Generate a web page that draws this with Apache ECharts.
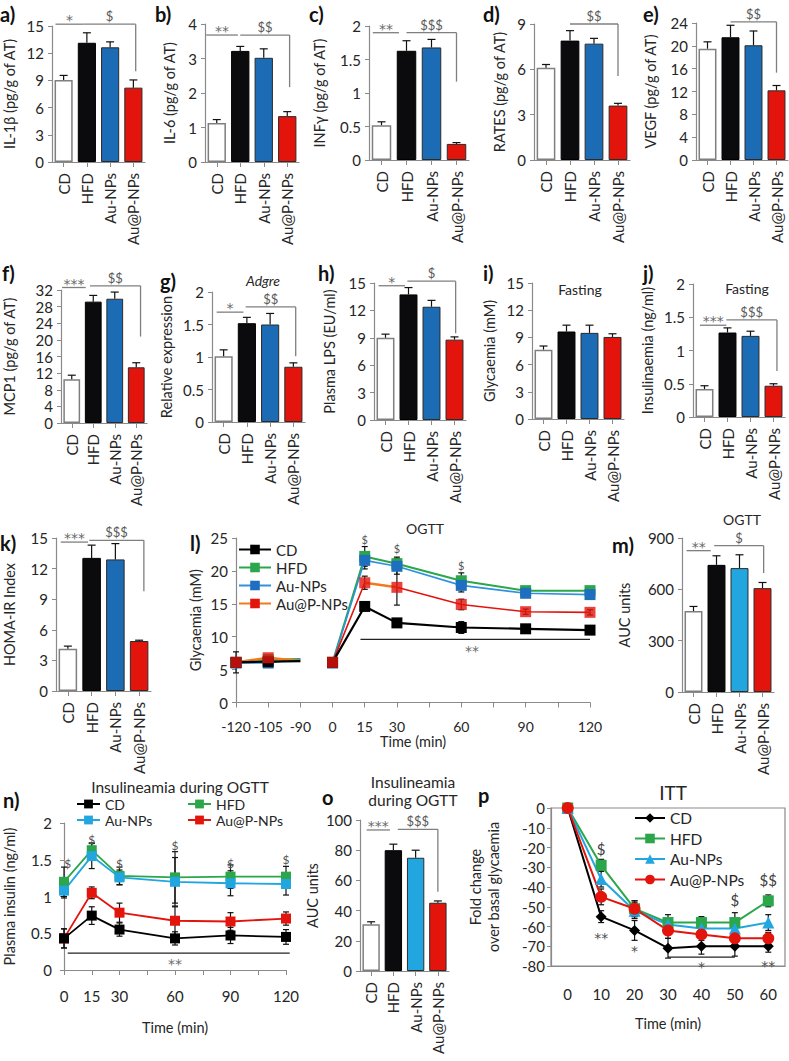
<!DOCTYPE html>
<html>
<head>
<meta charset="utf-8">
<script src="https://cdn.jsdelivr.net/npm/echarts@6/dist/echarts.min.js"></script>
<style>
html,body{margin:0;padding:0;background:#fff;}
#chart{width:789px;height:1061px;}
</style>
</head>
<body>
<div id="chart"></div>
<script>
// ================= DATA =================
const groups = ['CD', 'HFD', 'Au-NPs', 'Au@P-NPs'];

const il1b    = [9.05, 13.15, 12.65, 8.2];   const il1bErr    = [0.5, 1.1, 0.6, 0.85];
const il6     = [1.13, 3.22, 3.02, 1.33];    const il6Err     = [0.1, 0.13, 0.26, 0.13];
const infg    = [0.52, 1.63, 1.68, 0.24];    const infgErr    = [0.05, 0.15, 0.12, 0.02];
const rates   = [6.1, 7.9, 7.7, 3.6];        const ratesErr   = [0.22, 0.66, 0.35, 0.15];
const vegf    = [19.5, 21.5, 20.1, 12.2];    const vegfErr    = [1.2, 2.1, 2.5, 0.85];
const mcp1    = [10.5, 29.2, 29.9, 13.4];    const mcp1Err    = [1.0, 1.5, 1.6, 1.1];
const adgre   = [1.01, 1.52, 1.50, 0.85];    const adgreErr   = [0.1, 0.09, 0.17, 0.06];
const lps     = [9.0, 13.75, 12.4, 8.8];     const lpsErr     = [0.4, 0.75, 0.7, 0.3];
const glyFast = [7.65, 9.65, 9.5, 9.05];     const glyFastErr = [0.4, 0.7, 0.85, 0.35];
const insFast = [0.42, 1.27, 1.22, 0.47];    const insFastErr = [0.05, 0.07, 0.07, 0.03];
const homa    = [4.15, 13.05, 12.9, 4.9];    const homaErr    = [0.25, 1.25, 1.55, 0.08];
const aucGly  = [473, 743, 724, 607];        const aucGlyErr  = [27, 53, 78, 33];
const aucIns  = [31, 80, 75, 45.2];          const aucInsErr  = [1.6, 4, 5, 1.2];

// significance brackets: [fromCat, toCat, level, dropTo|null, label]
const sigA = [[-0.35, 0.85, 15.2, null, '*'], [0.85, 3.1, 15.2, 10, '$']];
const sigB = [[-0.45, 0.9, 3.68, null, '**'], [1.0, 3.1, 3.68, 2.17, '$$']];
const sigC = [[-0.35, 0.7, 1.9, null, '**'], [1.0, 3.0, 1.9, 1.17, '$$$']];
const sigD = [[1.0, 3.0, 9.0, 5.56, '$$']];
const sigE = [[1.0, 3.0, 24.2, 15.3, '$$']];
const sigF = [[-0.45, 0.65, 32.6, null, '***'], [0.85, 3.2, 33, 20.8, '$$']];
const sigG = [[-0.3, 0.85, 1.69, null, '*'], [0.95, 3.1, 1.77, 1.01, '$$']];
const sigH = [[-0.3, 0.85, 14.7, null, '*'], [0.95, 3.05, 15.2, 9.5, '$']];
const sigI = [];
const sigJ = [[-0.2, 0.95, 1.38, null, '***'], [0.95, 3.15, 1.46, 0.69, '$$$']];
const sigK = [[-0.3, 0.85, 14.6, null, '***'], [0.9, 3.2, 14.77, 9.78, '$$$']];
const sigM = [[-0.3, 0.75, 826, null, '**'], [0.9, 3.05, 855, 695, '$']];
const sigO = [[-0.2, 0.85, 93.4, null, '***'], [1.2, 3.0, 93.8, 52.5, '$$$']];

// OGTT glycaemia (l)
const ogttTimes  = [-120, -105, -90, 0, 15, 30, 60, 90, 120];
const ogttCD     = [6.1, 6.2, 6.3, 6.1, 14.6, 12.1, 11.4, 11.2, 11.0];
const ogttHFD    = [6.1, 6.5, 6.6, 6.1, 22.2, 21.1, 18.5, 17.0, 17.0];
const ogttAu     = [6.0, 6.0, 6.6, 6.0, 21.6, 20.7, 17.8, 16.6, 16.4];
const ogttAuP    = [6.1, 6.8, 6.3, 6.1, 18.2, 17.5, 14.9, 13.8, 13.7];
const ogttCDErr  = [1.6, 0.3, 0, 0.3, 0.5, 0.6, 0.9, 0.4, 0.4];
const ogttHFDErr = [0.4, 0.3, 0, 0.3, 1.5, 1.0, 1.2, 0.4, 0.4];
const ogttAuErr  = [0.4, 0.3, 0, 0.3, 1.3, 1.2, 1.0, 0.4, 0.4];
const ogttAuPErr = [0.4, 0.3, 0, 0.3, 1.0, 2.7, 0.8, 0.4, 0.4];
const ogttDollar = [[15, 24.8], [30, 23.4], [60, 20.8]];
const ogttStarLine = [13, 120, 9.6];
const ogttStarText = [65, 8.4];

// Insulinaemia during OGTT (n)
const insTimes  = [0, 15, 30, 60, 90, 120];
const insCD     = [0.43, 0.74, 0.55, 0.43, 0.47, 0.45];
const insHFD    = [1.2, 1.63, 1.28, 1.26, 1.27, 1.27];
const insAu     = [1.08, 1.55, 1.26, 1.2, 1.18, 1.17];
const insAuP    = [0.43, 1.05, 0.78, 0.67, 0.66, 0.7];
const insCDErr  = [0.13, 0.12, 0.09, 0.09, 0.11, 0.1];
const insHFDErr = [0.2, 0.1, 0.12, 0.35, 0.16, 0.14];
const insAuErr  = [0.1, 0.17, 0.1, 0.33, 0.17, 0.15];
const insAuPErr = [0.13, 0.08, 0.13, 0.19, 0.12, 0.09];
const insDollar = [[2, 1.45], [15, 1.77], [30, 1.45], [60, 1.7], [90, 1.45], [120, 1.5]];
const insStarLine = [2, 122, 0.23];
const insStarText = [60, 0.13];

// ITT (p)
const ittTimes  = ['0', '10', '20', '30', '40', '50', '60'];
const ittCD     = [0, -55, -62, -71, -70, -70, -70];
const ittHFD    = [0, -29, -51, -58, -58, -58, -47];
const ittAu     = [0, -36, -52, -59, -61, -61, -58];
const ittAuP    = [0, -45, -51, -62, -64, -66, -66];
const ittCDErr  = [0, 3, 5, 5, 4, 5, 3];
const ittHFDErr = [0, 3, 4, 4, 3, 5, 3];
const ittAuErr  = [0, 4, 4, 3, 3, 4, 4];
const ittAuPErr = [0, 4, 4, 4, 3, 3, 3];
const ittMarks  = [[1, -21, '$'], [1, -64, '**'], [2, -70.5, '*'], [4, -78.5, '*'], [5, -46.5, '$'], [6, -36.5, '$$'], [6, -78, '**']];
const ittLine   = [3, 5, -75.5];

// ================= STYLE / LAYOUT =================
const FONT = 'Lato, "Open Sans", sans-serif';
const TXT = '#262626', AXC = '#8a8a8a', SIGC = '#7f7f7f';
const BLUE = '#1b6cb5', LBLUE = '#22a6e0', RED = '#e3140c', BLACK = '#0b0b0d', GREEN = '#2ba64b', ORANGE = '#f07a1c';

function barStyle(i, blue) {
  return [{color: '#fff', borderColor: '#7f7f7f', borderWidth: 1.5},
          {color: BLACK, borderColor: '#000', borderWidth: 1},
          {color: blue, borderColor: '#2b2b2b', borderWidth: 1},
          {color: RED, borderColor: '#2b2b2b', borderWidth: 1}][i];
}

const barPanels = [
  {vals: il1b, errs: il1bErr, sig: sigA, box: [52, 26, 93, 136], y: [0, 15, 3], name: 'IL-1β (pg/g of AT)', gap: 35, blue: BLUE},
  {vals: il6, errs: il6Err, sig: sigB, box: [205, 24, 94, 138], y: [0, 4, 1], name: 'IL-6 (pg/g of AT)', gap: 28, blue: BLUE},
  {vals: infg, errs: infgErr, sig: sigC, box: [369, 26, 100, 134], y: [0, 2, 0.5], name: 'INFγ (pg/g of AT)', gap: 42, blue: BLUE},
  {vals: rates, errs: ratesErr, sig: sigD, box: [534, 24, 96, 136], y: [0, 9, 3], name: 'RATES (pg/g of AT)', gap: 27, blue: BLUE},
  {vals: vegf, errs: vegfErr, sig: sigE, box: [696, 23, 92, 137], y: [0, 24, 4], name: 'VEGF (pg/g of AT)', gap: 38, blue: BLUE},
  {vals: mcp1, errs: mcp1Err, sig: sigF, box: [61, 290, 86, 133], y: [0, 32, 4], name: 'MCP1 (pg/g of AT)', gap: 44, blue: BLUE},
  {vals: adgre, errs: adgreErr, sig: sigG, box: [212, 292, 93, 130], y: [0, 2, 0.5], name: 'Relative expression', gap: 38, blue: BLUE, nameShift: 6},
  {vals: lps, errs: lpsErr, sig: sigH, box: [374, 283, 92, 137], y: [0, 15, 3], name: 'Plasma LPS (EU/ml)', gap: 37, blue: BLUE},
  {vals: glyFast, errs: glyFastErr, sig: sigI, box: [532, 283, 92, 136], y: [0, 15, 3], name: 'Glycaemia (mM)', gap: 35, blue: BLUE},
  {vals: insFast, errs: insFastErr, sig: sigJ, box: [693, 284, 92, 133], y: [0, 2, 0.5], name: 'Insulinaemia (ng/ml)', gap: 38, blue: BLUE, nameShift: 6},
  {vals: homa, errs: homaErr, sig: sigK, box: [56, 538, 95, 153], y: [0, 15, 3], name: 'HOMA-IR Index', gap: 39, blue: BLUE},
  {vals: aucGly, errs: aucGlyErr, sig: sigM, box: [682, 538, 92, 154], y: [0, 900, 300], name: 'AUC units', gap: 50, blue: LBLUE},
  {vals: aucIns, errs: aucInsErr, sig: sigO, box: [360, 820, 89, 151], y: [0, 100, 20], name: 'AUC units', gap: 40, blue: LBLUE}
];

const panelLetters = [['a)', 0, 14], ['b)', 155, 14], ['c)', 309, 14], ['d)', 483, 14], ['e)', 643, 14],
  ['f)', 2, 273], ['g)', 160, 281], ['h)', 318, 273], ['i)', 483, 273], ['j)', 643, 273],
  ['k)', 0, 543], ['l)', 190, 543], ['m)', 612, 545], ['n)', 3, 800], ['o', 322, 797], ['p', 478, 795]];

const titles = [['Adgre', 263, 280, 14, 'italic'], ['Fasting', 580, 289, 14], ['Fasting', 747, 288, 14],
  ['OGTT', 425, 528, 14], ['OGTT', 742, 519, 14], ['Insulineamia during OGTT', 180, 787, 15.5],
  ['Insulineamia', 413, 782, 15.5], ['during OGTT', 413, 800, 15.5], ['ITT', 673, 792, 19]];

// ================= BUILD =================
const grids = [], xAxes = [], yAxes = [], series = [], legends = [];
const axisLineC = {show: true, lineStyle: {color: AXC, width: 1.2}};
const lbl = (extra) => Object.assign({color: TXT, fontSize: 15, fontFamily: FONT}, extra || {});

function addGrid(b, extra) {
  grids.push(Object.assign({left: b[0], top: b[1], width: b[2], height: b[3], containLabel: false, outerBoundsMode: 'none'}, extra || {}));
  return grids.length - 1;
}
function yAxisCfg(gi, y, name, gap, extra) {
  return Object.assign({gridIndex: gi, type: 'value', min: y[0], max: y[1], interval: y[2],
    name: name, nameLocation: 'middle', nameGap: gap, nameTextStyle: lbl({fontSize: 14.5}),
    axisLine: axisLineC, axisTick: {show: true, length: 4, lineStyle: {color: AXC}},
    splitLine: {show: false}, axisLabel: lbl({margin: 8})}, extra || {});
}
function errSeries(gi, data, capW, both, z) {
  return {type: 'custom', xAxisIndex: gi, yAxisIndex: gi, z: z || 4, silent: true, data: data,
    renderItem: function (params, api) {
      const x = api.value(0), v = api.value(1), e = api.value(2);
      if (!e) return null;
      const top = api.coord([x, v + e]);
      const bot = api.coord([x, both ? v - e : v]);
      const st = {stroke: '#111', lineWidth: 1.2, fill: null};
      const ch = [
        {type: 'line', shape: {x1: top[0], y1: top[1], x2: bot[0], y2: bot[1]}, style: st},
        {type: 'line', shape: {x1: top[0] - capW / 2, y1: top[1], x2: top[0] + capW / 2, y2: top[1]}, style: st}];
      if (both) ch.push({type: 'line', shape: {x1: bot[0] - capW / 2, y1: bot[1], x2: bot[0] + capW / 2, y2: bot[1]}, style: st});
      return {type: 'group', children: ch};
    }};
}

// --- bar panels
const barGridIdx = [];
barPanels.forEach(p => {
  const gi = addGrid(p.box);
  barGridIdx.push(gi);
  xAxes.push({gridIndex: gi, type: 'category', data: groups, axisLine: axisLineC,
    axisTick: {show: true, alignWithLabel: true, length: 5, lineStyle: {color: AXC}},
    axisLabel: lbl({rotate: 90, margin: 11, interval: 0})});
  const ya = yAxisCfg(gi, p.y, p.name, p.gap);
  if (p.nameShift) ya.nameTextStyle = lbl({fontSize: 14.5, padding: [0, 0, 0, 0], align: 'center', verticalAlign: 'bottom', lineHeight: 16});
  yAxes.push(ya);
  series.push({type: 'bar', xAxisIndex: gi, yAxisIndex: gi, barCategoryGap: '22%', z: 2, silent: true,
    data: p.vals.map((v, i) => ({value: v, itemStyle: barStyle(i, p.blue)}))});
  series.push(errSeries(gi, p.vals.map((v, i) => [i, v, p.errs[i]]), 8, false, 4));
});

// --- l: OGTT glycaemia (broken time axis)
function ogttPos(t) { return t < 0 ? (t + 120) / 15 : 3 + t / 15; }
function runs(vals, runList) {
  const out = [];
  runList.forEach((r, k) => {
    if (k > 0) out.push([ogttPos(ogttTimes[r[0]]) - 0.01, '-']);
    r.forEach(i => {
      const item = {value: [ogttPos(ogttTimes[i]), vals[i]]};
      if (ogttTimes[i] === -90) item.symbol = 'none';
      out.push(item);
    });
  });
  return out;
}
const fullRuns = [[0, 1, 2], [3, 4, 5, 6, 7, 8]];
const gL = addGrid([236, 538, 354, 164.5]);
xAxes.push({gridIndex: gL, type: 'value', min: 0, max: 11, interval: 1, axisLine: Object.assign({onZero: false}, axisLineC),
  axisTick: {show: true, length: 5, lineStyle: {color: AXC}}, splitLine: {show: false},
  axisLabel: lbl({fontSize: 14, margin: 17, formatter: v => { const t = ogttTimes.find(tt => Math.abs(ogttPos(tt) - v) < 1e-6); return t === undefined ? '' : String(t); }}),
  name: 'Time (min)', nameLocation: 'middle', nameGap: 31, nameTextStyle: lbl({fontSize: 14.5})});
yAxes.push(yAxisCfg(gL, [0, 25, 5], 'Glycaemia (mM)', 33));
const lLine = (name, vals, lc, ic, w) => ({type: 'line', name: name, xAxisIndex: gL, yAxisIndex: gL, z: 5, silent: true,
  symbol: 'rect', symbolSize: 11, lineStyle: {color: lc, width: w}, itemStyle: {color: ic}, data: runs(vals, fullRuns)});
series.push(errSeries(gL, ogttTimes.map((t, i) => [ogttPos(t), ogttHFD[i], ogttHFDErr[i]]), 6, true, 4));
series.push(errSeries(gL, ogttTimes.map((t, i) => [ogttPos(t), ogttAu[i], ogttAuErr[i]]), 6, true, 4));
series.push(errSeries(gL, ogttTimes.map((t, i) => [ogttPos(t), ogttAuP[i], ogttAuPErr[i]]), 6, true, 4));
series.push(errSeries(gL, ogttTimes.map((t, i) => [ogttPos(t), ogttCD[i], ogttCDErr[i]]), 6, true, 4));
series.push(lLine('l:HFD', ogttHFD, GREEN, GREEN, 2));
series.push(lLine('l:Au-NPs', ogttAu, '#2e93dc', '#1e6fc0', 1.6));
series.push({type: 'line', name: 'l:Au@P-NPs', xAxisIndex: gL, yAxisIndex: gL, z: 5, silent: true, symbol: 'rect', symbolSize: 11, showSymbol: false,
  lineStyle: {color: ORANGE, width: 2.5}, itemStyle: {color: RED}, data: runs(ogttAuP, [[0, 1, 2], [4, 5]])});
series.push({type: 'line', name: 'l:AuP-red', xAxisIndex: gL, yAxisIndex: gL, z: 5, silent: true, symbol: 'none',
  lineStyle: {color: RED, width: 1.6}, data: runs(ogttAuP, [[3, 4], [5, 6, 7, 8]])});
series.push({type: 'scatter', name: 'l:AuP-pts', xAxisIndex: gL, yAxisIndex: gL, z: 6, silent: true, symbol: 'rect', symbolSize: 11,
  itemStyle: {color: RED}, data: ogttTimes.map((t, i) => [ogttPos(t), ogttAuP[i]]).filter((d, i) => ogttTimes[i] !== -90)});
series.push(lLine('l:CD', ogttCD, '#000', '#000', 2.2));
legends.push({orient: 'vertical', left: 238, top: 542, padding: 0, itemGap: 3, itemWidth: 32, itemHeight: 12, selectedMode: false,
  data: ['l:CD', 'l:HFD', 'l:Au-NPs', 'l:Au@P-NPs'], formatter: n => n.split(':')[1], textStyle: lbl({fontSize: 15})});

// --- n: insulinaemia during OGTT
const gN = addGrid([64, 823, 222, 147]);
xAxes.push({gridIndex: gN, type: 'value', min: 0, max: 120, interval: 15, axisLine: Object.assign({onZero: false}, axisLineC),
  axisTick: {show: true, length: 5, lineStyle: {color: AXC}}, splitLine: {show: false},
  axisLabel: lbl({margin: 18, formatter: v => insTimes.indexOf(v) >= 0 ? String(v) : ''}),
  name: 'Time (min)', nameLocation: 'middle', nameGap: 50, nameTextStyle: lbl({fontSize: 14.5})});
yAxes.push(yAxisCfg(gN, [0, 2, 0.5], 'Plasma insulin (ng/ml)', 47, {axisLabel: lbl({margin: 12})}));
[[insHFD, insHFDErr], [insAu, insAuErr], [insAuP, insAuPErr], [insCD, insCDErr]].forEach(s =>
  series.push(errSeries(gN, insTimes.map((t, i) => [t, s[0][i], s[1][i]]), 6, true, 4)));
const nLine = (name, vals, c) => ({type: 'line', name: name, xAxisIndex: gN, yAxisIndex: gN, z: 5, silent: true,
  symbol: 'rect', symbolSize: 10, lineStyle: {color: c, width: 1.8}, itemStyle: {color: c},
  data: insTimes.map((t, i) => [t, vals[i]])});
series.push(nLine('n:HFD', insHFD, GREEN));
series.push(nLine('n:Au-NPs', insAu, LBLUE));
series.push(nLine('n:Au@P-NPs', insAuP, RED));
series.push(nLine('n:CD', insCD, '#000'));
legends.push({orient: 'vertical', left: 76, top: 797, padding: 0, itemGap: 2, itemWidth: 23, itemHeight: 11, selectedMode: false,
  data: ['n:CD', 'n:Au-NPs'], formatter: n => n.split(':')[1], textStyle: lbl({fontSize: 14})});
legends.push({orient: 'vertical', left: 187, top: 797, padding: 0, itemGap: 2, itemWidth: 23, itemHeight: 11, selectedMode: false,
  data: ['n:HFD', 'n:Au@P-NPs'], formatter: n => n.split(':')[1], textStyle: lbl({fontSize: 14})});

// --- p: ITT
const gP = addGrid([551, 808, 234, 158], {show: true, borderColor: AXC, borderWidth: 1.2});
xAxes.push({gridIndex: gP, type: 'category', data: ittTimes, position: 'bottom', boundaryGap: true,
  axisLine: Object.assign({onZero: false}, axisLineC), axisTick: {show: false},
  axisLabel: lbl({margin: 20, interval: 0}), name: 'Time (min)', nameLocation: 'middle', nameGap: 50, nameTextStyle: lbl({fontSize: 14.5})});
yAxes.push(yAxisCfg(gP, [-80, 0, 10], 'Fold change\nover basal glycaemia', 49,
  {axisLabel: lbl({margin: 6}), nameTextStyle: lbl({fontSize: 14.5, lineHeight: 18})}));
[[ittHFD, ittHFDErr], [ittAu, ittAuErr], [ittAuP, ittAuPErr], [ittCD, ittCDErr]].forEach(s =>
  series.push(errSeries(gP, ittTimes.map((t, i) => [i, s[0][i], s[1][i]]), 6, true, 4)));
const pLine = (name, vals, c, sym, sz) => ({type: 'line', name: name, xAxisIndex: gP, yAxisIndex: gP, z: 5, silent: true,
  symbol: sym, symbolSize: sz, lineStyle: {color: c, width: 2}, itemStyle: {color: c}, data: vals.slice()});
series.push(pLine('p:CD', ittCD, '#000', 'diamond', 11));
series.push(pLine('p:HFD', ittHFD, GREEN, 'rect', 11));
series.push(pLine('p:Au-NPs', ittAu, LBLUE, 'triangle', 12));
series.push(pLine('p:Au@P-NPs', ittAuP, RED, 'circle', 12));
legends.push({orient: 'vertical', left: 634, top: 810, padding: 0, itemGap: 4.5, itemWidth: 30, itemHeight: 12, selectedMode: false,
  data: ['p:CD', 'p:HFD', 'p:Au-NPs', 'p:Au@P-NPs'], formatter: n => n.split(':')[1], textStyle: lbl({fontSize: 15.5})});

// ================= RENDER =================
const chart = echarts.init(document.getElementById('chart'), null, {renderer: 'svg', width: 789, height: 1061});
chart.setOption({animation: false, backgroundColor: '#fff', grid: grids, xAxis: xAxes, yAxis: yAxes, series: series, legend: legends});

// annotations positioned through the chart's own scales
const gfx = [];
const toPx = (gi, x, y) => chart.convertToPixel({gridIndex: gi}, [x, y]);
function catPx(gi, x, y) {
  const a = toPx(gi, 0, y), b = toPx(gi, 1, y);
  return [a[0] + (b[0] - a[0]) * x, a[1]];
}
function gLine(p1, p2, color, w) {
  gfx.push({type: 'line', z: 100, silent: true, shape: {x1: p1[0], y1: p1[1], x2: p2[0], y2: p2[1]}, style: {stroke: color || SIGC, lineWidth: w || 1.3}});
}
function gText(txt, x, y, size, opt) {
  opt = opt || {};
  gfx.push({type: 'text', z: 100, silent: true, x: x, y: y, style: {text: txt, fill: opt.fill || '#595959',
    fontSize: size, fontFamily: opt.family || FONT, fontWeight: opt.weight || 'normal', fontStyle: opt.style || 'normal',
    align: opt.align || 'center', verticalAlign: opt.va || 'middle'}});
}
const isStar = s => s.indexOf('*') >= 0;
const STARFONT = '"DejaVu Sans", sans-serif';

barPanels.forEach((p, k) => {
  const gi = barGridIdx[k];
  p.sig.forEach(s => {
    const a = catPx(gi, s[0], s[2]), b = catPx(gi, s[1], s[2]);
    gLine(a, b);
    if (s[3] !== null) gLine(b, catPx(gi, s[1], s[3]));
    if (isStar(s[4])) gText(s[4], (a[0] + b[0]) / 2, a[1] - 4, 14, {family: STARFONT, fill: '#6a6a6a'});
    else gText(s[4], (a[0] + b[0]) / 2, a[1] - 8, 13);
  });
});
// l annotations
ogttDollar.forEach(d => { const q = toPx(gL, ogttPos(d[0]), d[1]); gText('$', q[0], q[1], 11, {fill: '#555'}); });
gLine(toPx(gL, ogttPos(ogttStarLine[0]), ogttStarLine[2]), toPx(gL, ogttPos(ogttStarLine[1]), ogttStarLine[2]), '#222', 1.2);
(function () { const q = toPx(gL, ogttPos(ogttStarText[0]), ogttStarText[1]); gText('**', q[0], q[1] + 4, 14, {family: STARFONT, fill: '#6a6a6a'}); })();
// n annotations
insDollar.forEach(d => { const q = toPx(gN, d[0], d[1]); gText('$', q[0], q[1], 12, {fill: '#555'}); });
gLine(toPx(gN, insStarLine[0], insStarLine[2]), toPx(gN, insStarLine[1], insStarLine[2]), '#222', 1.2);
(function () { const q = toPx(gN, insStarText[0], insStarText[1]); gText('**', q[0], q[1] + 4, 14, {family: STARFONT, fill: '#6a6a6a'}); })();
// p annotations
ittMarks.forEach(m => { const q = toPx(gP, m[0], m[1]);
  if (isStar(m[2])) gText(m[2], q[0], q[1] + 4, 14, {family: STARFONT, fill: '#505050'});
  else gText(m[2], q[0], q[1], 15, {fill: '#404040'}); });
gLine(toPx(gP, ittLine[0], ittLine[2]), toPx(gP, ittLine[1], ittLine[2]), '#222', 1.2);
// panel letters & titles
panelLetters.forEach(l => gText(l[0], l[1], l[2], 20, {fill: '#111', weight: 'bold', align: 'left'}));
titles.forEach(t => gText(t[0], t[1], t[2], t[3], {fill: TXT, style: t[4] || 'normal'}));

chart.setOption({graphic: {elements: gfx}});
</script>
</body>
</html>
